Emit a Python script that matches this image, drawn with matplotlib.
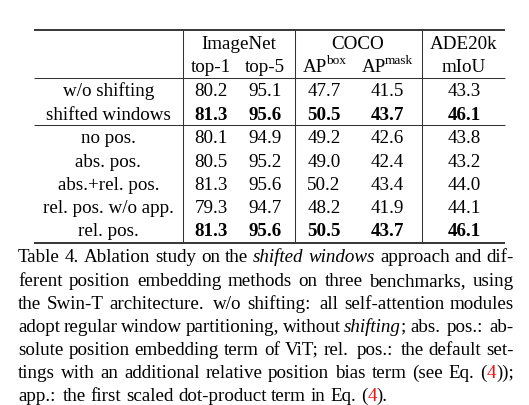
import matplotlib
matplotlib.use('Agg')
import matplotlib.pyplot as plt

# ---------------- data ----------------
methods = ["w/o shifting", "shifted windows", "no pos.", "abs. pos.",
           "abs.+rel. pos.", "rel. pos. w/o app.", "rel. pos."]
top1 = [80.2, 81.3, 80.1, 80.5, 81.3, 79.3, 81.3]
top5 = [95.1, 95.6, 94.9, 95.2, 95.6, 94.7, 95.6]
ap_box = [47.7, 50.5, 49.2, 49.0, 50.2, 48.2, 50.5]
ap_mask = [41.5, 43.7, 42.6, 42.4, 43.4, 41.9, 43.7]
miou = [43.3, 46.1, 43.8, 43.2, 44.0, 44.1, 46.1]
bold_rows = [1, 6]
groups = ["ImageNet", "COCO", "ADE20k"]
subheads = ["top-1", "top-5", ("AP", "box"), ("AP", "mask"), "mIoU"]

caption = [
    [[("Table", "n")], [("4.", "n")], [("Ablation", "n")], [("study", "n")], [("on", "n")],
     [("the", "n")], [("shifted", "i")], [("windows", "i")], [("approach", "n")],
     [("and", "n")], [("dif-", "n")]],
    [[("ferent", "n")], [("position", "n")], [("embedding", "n")], [("methods", "n")],
     [("on", "n")], [("three", "n")], [("benchmarks,", "n")], [("using", "n")]],
    [[("the", "n")], [("Swin-T", "n")], [("architecture.", "n")], [("w/o", "n")],
     [("shifting:", "n")], [("all", "n")], [("self-attention", "n")], [("modules", "n")]],
    [[("adopt", "n")], [("regular", "n")], [("window", "n")], [("partitioning,", "n")],
     [("without", "n")], [("shifting", "i"), (";", "n")], [("abs.", "n")], [("pos.:", "n")],
     [("ab-", "n")]],
    [[("solute", "n")], [("position", "n")], [("embedding", "n")], [("term", "n")],
     [("of", "n")], [("ViT;", "n")], [("rel.", "n")], [("pos.:", "n")], [("the", "n")],
     [("default", "n")], [("set-", "n")]],
    [[("tings", "n")], [("with", "n")], [("an", "n")], [("additional", "n")],
     [("relative", "n")], [("position", "n")], [("bias", "n")], [("term", "n")],
     [("(see", "n")], [("Eq.", "n")], [("(", "n"), ("4", "r"), ("));", "n")]],
    [[("app.:", "n")], [("the", "n")], [("first", "n")], [("scaled", "n")],
     [("dot-product", "n")], [("term", "n")], [("in", "n")], [("Eq.", "n")],
     [("(", "n"), ("4", "r"), (").", "n")]],
]
tie_words = {"Eq.", "4."}

# ---------------- figure ----------------
W, H = 529, 406
fig = plt.figure(figsize=(W / 100, H / 100), dpi=100)
ax = fig.add_axes([0, 0, 1, 1])
ax.set_xlim(0, W)
ax.set_ylim(H, 0)
ax.axis('off')
R = fig.canvas.get_renderer()

FAM = 'Liberation Serif'
FS = 13.7
SUP = 9.6
RED = '#ee1111'
EM = FS * 100 / 72


def style_kw(st):
    kw = dict(family=FAM, fontsize=FS, color='black')
    if st == 'i':
        kw['style'] = 'italic'
    if st == 'b':
        kw['weight'] = 'bold'
    if st == 'r':
        kw['color'] = RED
    return kw


def txt_width(s, **kw):
    t = ax.text(0, 0, s, **kw)
    w = t.get_window_extent(R).width
    t.remove()
    return w


def word_width(word):
    return sum(txt_width(s, **style_kw(st)) for s, st in word)


def draw_word(x, y, word):
    for s, st in word:
        ax.text(x, y, s, ha='left', va='baseline', **style_kw(st))
        x += txt_width(s, **style_kw(st))


def space_factor(word):
    s = "".join(t for t, _ in word)
    if s in tie_words:
        return 1000
    c = s[-1]
    return {'.': 3000, ':': 2000, ';': 1500, ',': 1250}.get(c, 1000)


# ---------------- table geometry ----------------
x_left, x_right = 34, 505
vlines = [183.3, 295, 422.3]
label_cx = 108.3
col_cx = [211, 265, 324, 387.5, 464]
group_cx = [239, 358, 464]
y_top, y_mid1, y_mid2, y_bot = 31, 79, 126, 244
base_h1, base_h2 = 49, 72.5
row_base = [96.5, 119.8, 143.3, 166.6, 189.9, 213.2, 236.5]

ax.plot([x_left, x_right], [y_top, y_top], color='black', lw=1.1, solid_capstyle='butt')
ax.plot([x_left, x_right], [y_bot, y_bot], color='black', lw=1.1, solid_capstyle='butt')
for y in (y_mid1, y_mid2):
    ax.plot([x_left, x_right], [y, y], color='#333333', lw=0.75, solid_capstyle='butt')
for x in vlines:
    ax.plot([x, x], [y_top, y_bot], color='#333333', lw=0.75, solid_capstyle='butt')

for g, cx in zip(groups, group_cx):
    ax.text(cx, base_h1, g, ha='center', va='baseline', **style_kw('n'))

for h, cx in zip(subheads, col_cx):
    if isinstance(h, tuple):
        main, sup = h
        kw_m = style_kw('n')
        kw_s = dict(style_kw('n'), fontsize=SUP)
        wm = txt_width(main, **kw_m) - 1.0
        ws = txt_width(sup, **kw_s)
        x0 = cx - (wm + ws) / 2
        ax.text(x0, base_h2, main, ha='left', va='baseline', **kw_m)
        ax.text(x0 + wm, base_h2 - 8.3, sup, ha='left', va='baseline', **kw_s)
    else:
        ax.text(cx, base_h2, h, ha='center', va='baseline', **style_kw('n'))

cols = [top1, top5, ap_box, ap_mask, miou]
for i, m in enumerate(methods):
    st = 'b' if i in bold_rows else 'n'
    ax.text(label_cx, row_base[i], m, ha='center', va='baseline', **style_kw('n'))
    for col, cx in zip(cols, col_cx):
        ax.text(cx, row_base[i], f"{col[i]:.1f}", ha='center', va='baseline', **style_kw(st))

# ---------------- caption (justified, TeX-like spacing) ----------------
cap_left, cap_right = 18, 514
cap_base0, cap_step = 262.5, 23.1
for li, line in enumerate(caption):
    y = cap_base0 + li * cap_step
    widths = [word_width(w) for w in line]
    nat, stretch, shrink = [], [], []
    for w in line[:-1]:
        f = space_factor(w)
        nat.append(0.25 * EM + (0.12 * EM if f >= 2000 else 0))
        stretch.append(0.15 * EM * f / 1000)
        shrink.append(0.06 * EM * 1000 / f)
    last = li == len(caption) - 1
    if last:
        gaps = nat
    else:
        extra = (cap_right - cap_left) - sum(widths) - sum(nat)
        if extra >= 0:
            gaps = [n + extra * s / sum(stretch) for n, s in zip(nat, stretch)]
        else:
            gaps = [n + extra * s / sum(shrink) for n, s in zip(nat, shrink)]
    x = cap_left
    for k, (w, ww) in enumerate(zip(line, widths)):
        draw_word(x, y, w)
        if k < len(gaps):
            x += ww + gaps[k]

fig.savefig('out.png', dpi=100)
